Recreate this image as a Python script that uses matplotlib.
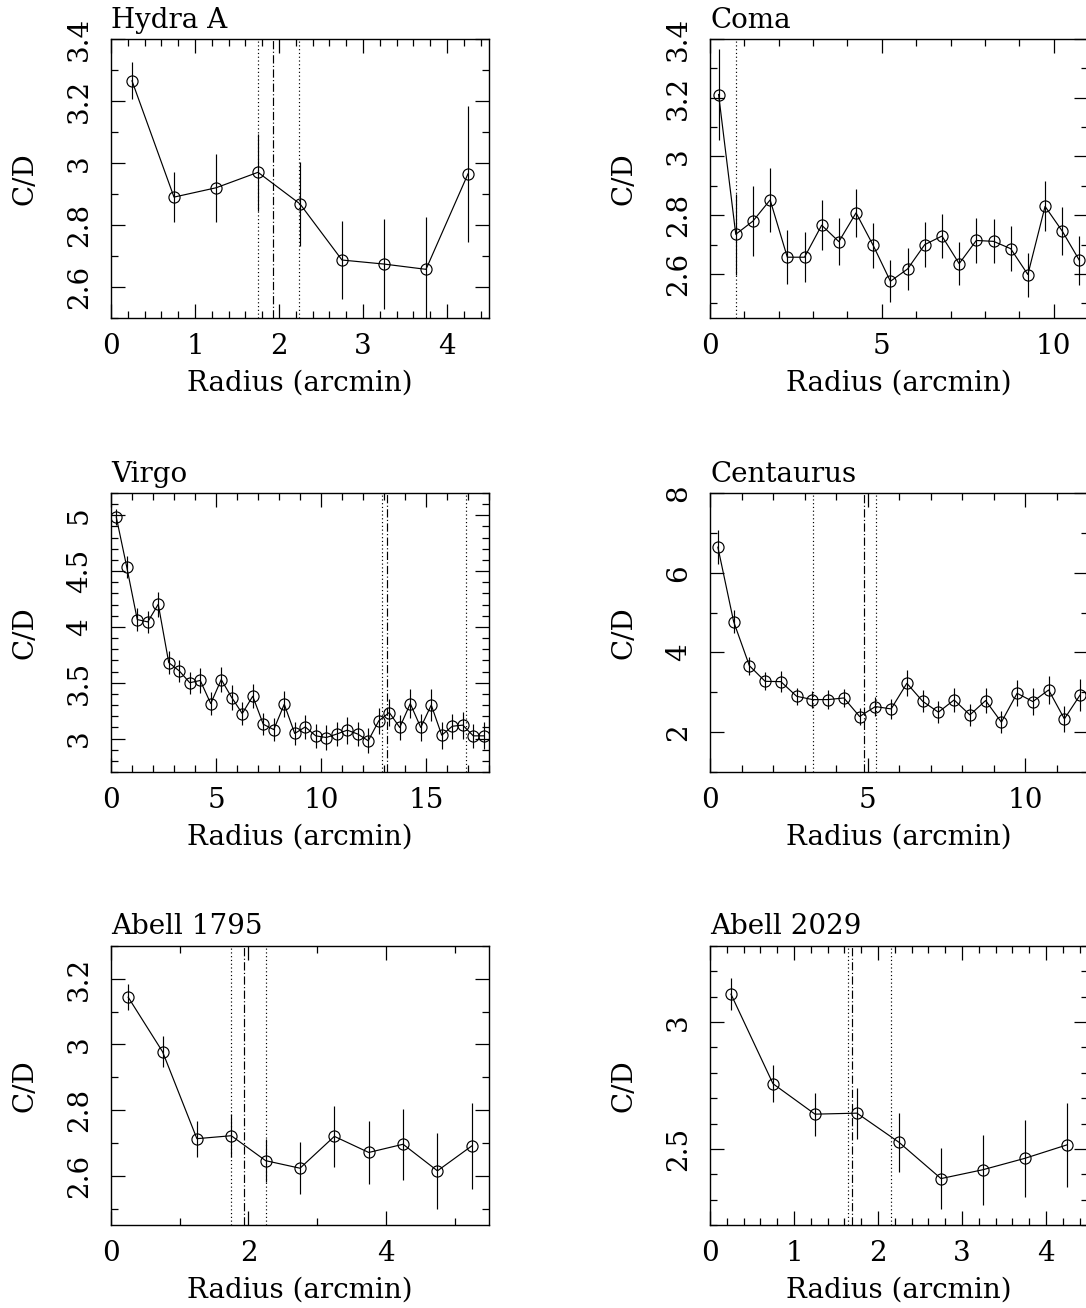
import matplotlib
matplotlib.use("Agg")
import matplotlib.pyplot as plt
from matplotlib.ticker import MultipleLocator

# ── DATA ──────────────────────────────────────────────────────────────────────

hydra_r = [0.25, 0.75, 1.25, 1.75, 2.25, 2.75, 3.25, 3.75, 4.25]
hydra_cd = [3.265, 2.89, 2.92, 2.97, 2.868, 2.687, 2.674, 2.657, 2.965]
hydra_err = [0.06, 0.08, 0.11, 0.125, 0.135, 0.126, 0.145, 0.17, 0.22]
hydra_lines = [1.75, 1.93, 2.24]

coma_r = [0.25 + 0.5 * i for i in range(22)]
coma_cd = [3.211, 2.735, 2.78, 2.852, 2.657, 2.657, 2.766, 2.71, 2.808, 2.697,
           2.575, 2.617, 2.70, 2.729, 2.635, 2.714, 2.711, 2.686, 2.598, 2.83,
           2.746, 2.646]
coma_err = [0.154, 0.137, 0.12, 0.11, 0.092, 0.085, 0.085, 0.079, 0.082, 0.077,
            0.071, 0.073, 0.076, 0.075, 0.074, 0.077, 0.075, 0.077, 0.075, 0.085,
            0.083, 0.084]
coma_lines = [0.76]

virgo_r = [0.25 + 0.5 * i for i in range(36)]
virgo_cd = [4.985, 4.537, 4.066, 4.045, 4.203, 3.68, 3.606, 3.50, 3.52, 3.313,
            3.528, 3.367, 3.224, 3.379, 3.128, 3.08, 3.307, 3.045, 3.104, 3.024,
            3.009, 3.04, 3.075, 3.04, 2.98, 3.158, 3.233, 3.099, 3.313, 3.099,
            3.30, 3.03, 3.11, 3.12, 3.024, 3.024]
virgo_err = [0.075, 0.1, 0.1, 0.1, 0.11, 0.1, 0.1, 0.1, 0.11, 0.1,
             0.11, 0.11, 0.105, 0.11, 0.1, 0.1, 0.115, 0.105, 0.11, 0.105,
             0.11, 0.11, 0.12, 0.11, 0.11, 0.115, 0.12, 0.115, 0.127, 0.12,
             0.14, 0.12, 0.11, 0.12, 0.11, 0.12]
virgo_lines = [12.89, 13.13, 16.9]

cen_r = [0.25 + 0.5 * i for i in range(24)]
cen_cd = [6.64, 4.775, 3.667, 3.275, 3.267, 2.9, 2.817, 2.817, 2.858, 2.392,
          2.642, 2.583, 3.225, 2.775, 2.5, 2.808, 2.433, 2.792, 2.25, 2.975,
          2.767, 3.058, 2.333, 2.933]
cen_err = [0.43, 0.29, 0.23, 0.23, 0.27, 0.21, 0.21, 0.23, 0.23, 0.22,
           0.23, 0.25, 0.33, 0.27, 0.28, 0.3, 0.27, 0.32, 0.28, 0.33,
           0.34, 0.36, 0.33, 0.4]
cen_lines = [3.26, 4.89, 5.27]

a1795_r = [0.25, 0.75, 1.25, 1.75, 2.25, 2.75, 3.25, 3.75, 4.25, 4.75, 5.25]
a1795_cd = [3.144, 2.978, 2.713, 2.722, 2.646, 2.623, 2.72, 2.671, 2.696, 2.615, 2.691]
a1795_err = [0.04, 0.047, 0.055, 0.065, 0.066, 0.079, 0.092, 0.097, 0.108, 0.115, 0.13]
a1795_lines = [1.75, 1.93, 2.25]

a2029_r = [0.25, 0.75, 1.25, 1.75, 2.25, 2.75, 3.25, 3.75, 4.25]
a2029_cd = [3.11, 2.757, 2.637, 2.641, 2.526, 2.383, 2.418, 2.463, 2.516]
a2029_err = [0.063, 0.072, 0.085, 0.1, 0.116, 0.119, 0.138, 0.152, 0.166]
a2029_lines = [1.64, 1.69, 2.15]

# name, r, cd, err, (dotted, dashdot, dotted) lines, xlim, ylim, x major/minor, y major/minor
panels = [
    ("Hydra A", hydra_r, hydra_cd, hydra_err, hydra_lines, (0, 4.5), (2.5, 3.4), (1, 0.2), (0.2, 0.1)),
    ("Coma", coma_r, coma_cd, coma_err, coma_lines, (0, 11), (2.45, 3.4), (5, 1), (0.2, 0.1)),
    ("Virgo", virgo_r, virgo_cd, virgo_err, virgo_lines, (0, 18), (2.7, 5.2), (5, 1), (0.5, 0.1)),
    ("Centaurus", cen_r, cen_cd, cen_err, cen_lines, (0, 12), (1, 8), (5, 1), (2, 1)),
    ("Abell 1795", a1795_r, a1795_cd, a1795_err, a1795_lines, (0, 5.5), (2.45, 3.3), (2, 1), (0.2, 0.1)),
    ("Abell 2029", a2029_r, a2029_cd, a2029_err, a2029_lines, (0, 4.5), (2.2, 3.3), (1, 0.2), (0.5, 0.1)),
]

# ── FIGURE ────────────────────────────────────────────────────────────────────

W, H = 1086, 1308
plt.rcParams["font.family"] = "DejaVu Serif"
plt.rcParams["font.size"] = 20
fig = plt.figure(figsize=(W / 100, H / 100), dpi=100)

AX_W, AX_H = 378, 279
lefts = [111, 710]
tops = [39, 493, 946]

for idx, (name, r, cd, err, vlines, xlim, ylim, xt, yt) in enumerate(panels):
    row, col = divmod(idx, 2)
    ax = fig.add_axes([lefts[col] / W, 1 - (tops[row] + AX_H) / H, AX_W / W, AX_H / H])

    ax.errorbar(r, cd, yerr=err, fmt="-", color="black", lw=0.85, elinewidth=0.85,
                capsize=0, marker="o", ms=8, mfc="none", mec="black", mew=0.85)

    styles = [(0, (1, 2.2)), (0, (7, 2, 1, 2)), (0, (1, 2.2))]
    for x, ls in zip(vlines, styles):
        ax.axvline(x, color="black", lw=0.85, ls=ls)

    ax.set_xlim(*xlim)
    ax.set_ylim(*ylim)
    ax.xaxis.set_major_locator(MultipleLocator(xt[0]))
    ax.xaxis.set_minor_locator(MultipleLocator(xt[1]))
    ax.yaxis.set_major_locator(MultipleLocator(yt[0]))
    ax.yaxis.set_minor_locator(MultipleLocator(yt[1]))
    ax.xaxis.set_major_formatter(plt.FuncFormatter(lambda v, p: f"{v:g}"))
    ax.yaxis.set_major_formatter(plt.FuncFormatter(lambda v, p: f"{v:g}"))

    ax.tick_params(which="both", direction="in", top=True, right=True, width=0.9)
    ax.tick_params(which="major", length=10)
    ax.tick_params(which="minor", length=5)
    ax.tick_params(axis="x", pad=11)
    ax.tick_params(axis="y", pad=13, labelrotation=90)
    for lab in ax.get_yticklabels():
        lab.set_va("center")
    for sp in ax.spines.values():
        sp.set_linewidth(1.0)

    ax.set_xlabel("Radius (arcmin)")
    ax.xaxis.label.set_va("center")
    ax.xaxis.set_label_coords(0.5, -65 / AX_H)
    ax.set_ylabel("C/D")
    ax.yaxis.label.set_va("center")
    ax.yaxis.set_label_coords(-86 / AX_W, 0.5)

    ax.text(0, 1 + 19 / AX_H, name, transform=ax.transAxes, ha="left", va="center")

fig.savefig("out.png", dpi=100)
